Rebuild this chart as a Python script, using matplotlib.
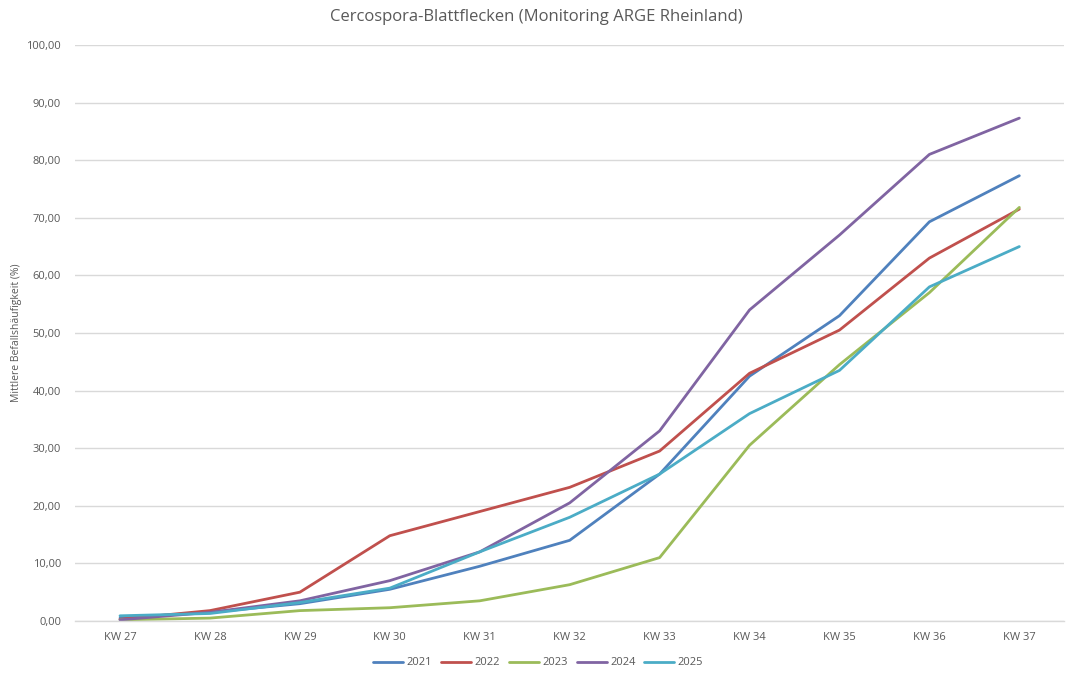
import matplotlib
matplotlib.use("Agg")
import matplotlib.pyplot as plt
from matplotlib.ticker import FuncFormatter

plt.rcParams['font.family'] = ['Open Sans', 'DejaVu Sans']

weeks = ["KW 27", "KW 28", "KW 29", "KW 30", "KW 31", "KW 32",
         "KW 33", "KW 34", "KW 35", "KW 36", "KW 37"]

y2021 = [0.5, 1.5, 3.0, 5.5, 9.5, 14.0, 25.5, 42.5, 53.0, 69.3, 77.3]
y2022 = [0.3, 1.8, 5.0, 14.8, 19.0, 23.2, 29.5, 43.0, 50.5, 63.0, 71.5]
y2023 = [0.2, 0.5, 1.8, 2.3, 3.5, 6.3, 11.0, 30.5, 44.5, 57.0, 71.8]
y2024 = [0.2, 1.5, 3.5, 7.0, 12.0, 20.5, 33.0, 54.0, 67.0, 81.0, 87.3]
y2025 = [0.9, 1.3, 3.2, 5.7, 12.0, 18.0, 25.5, 36.0, 43.5, 58.0, 65.0]

series = [
    ("2021", y2021, "#4F81BD"),
    ("2022", y2022, "#C0504D"),
    ("2023", y2023, "#9BBB59"),
    ("2024", y2024, "#8064A2"),
    ("2025", y2025, "#4BACC6"),
]

fig = plt.figure(figsize=(10.66, 6.73), dpi=100)
ax = fig.add_axes([0.0704, 0.0773, 0.928, 0.8559])

x = list(range(len(weeks)))
for label, vals, color in series:
    ax.plot(x, vals, color=color, lw=2.0, label=label, solid_capstyle='round',
            solid_joinstyle='round')

ax.set_xlim(-0.5, len(weeks) - 0.5)
ax.set_ylim(0, 100)
ax.set_yticks(range(0, 101, 10))
ax.yaxis.set_major_formatter(FuncFormatter(lambda v, p: f"{v:.2f}".replace(".", ",")))
ax.set_xticks(x)
ax.set_xticklabels(weeks)

ax.grid(axis='y', color='#d9d9d9', lw=1.0)
ax.set_axisbelow(True)
for s in ('top', 'right', 'left'):
    ax.spines[s].set_visible(False)
ax.spines['bottom'].set_color('#d9d9d9')
ax.spines['bottom'].set_linewidth(1.0)
ax.tick_params(axis='both', length=0, labelsize=8, labelcolor='#595959')
ax.tick_params(axis='x', pad=8)
ax.tick_params(axis='y', pad=10)

ax.set_ylabel("Mittlere Befallshäufigkeit (%)", fontsize=7.5, color='#595959',
              labelpad=3)

fig.text(0.503, 0.974, "Cercospora-Blattflecken (Monitoring ARGE Rheinland)",
         fontsize=12, color='#595959', ha='center', va='center')

handles, labels = ax.get_legend_handles_labels()
fig.legend(handles, labels, loc='center', bbox_to_anchor=(0.505, 0.015), ncol=5,
           frameon=False, fontsize=8, labelcolor='#595959',
           handlelength=2.7, columnspacing=0.8, handletextpad=0.3)

fig.savefig("out.png", dpi=100, facecolor='white')
